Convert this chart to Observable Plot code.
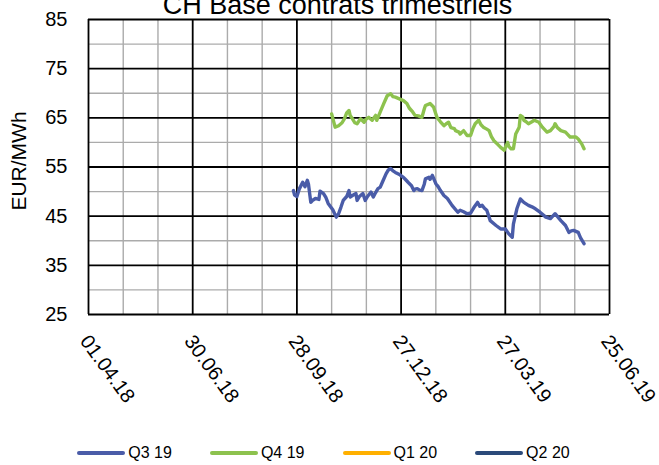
<!DOCTYPE html>
<html>
<head>
<meta charset="utf-8">
<script src="https://cdn.jsdelivr.net/npm/d3@7"></script>
<script src="https://cdn.jsdelivr.net/npm/@observablehq/plot@0.6"></script>
<style>
  body { margin: 0; background: #fff; }
  #wrap { position: relative; width: 659px; height: 465px; overflow: hidden; font-family: "Liberation Sans", Arial, sans-serif; background: #fff; }
  #chart { position: absolute; top: 0; left: 0; }
  #title { position: absolute; top: -8px; left: 8px; width: 659px; text-align: center; font-size: 27px; line-height: 27px; color: #000; white-space: nowrap; }
  #legend { position: absolute; top: 443px; left: -6px; width: 659px; height: 20px; display: flex; justify-content: center; align-items: center; font-size: 16px; color: #000; }
  .item { display: flex; align-items: center; margin: 0 19px; }
  .sw { width: 48px; height: 4px; border-radius: 2px; margin-right: 3px; }
</style>
</head>
<body>
<div id="wrap">
  <div id="chart"></div>
  <div id="title"></div>
  <div id="legend"></div>
</div>
<script>
const titleText = "CH Base contrats trimestriels";
const yLabel = "EUR/MWh";

const seriesNames = ["Q3 19", "Q4 19", "Q1 20", "Q2 20"];
const seriesColors = ["#4A5CA8", "#8DC24E", "#FFB000", "#2B4A7A"];

const yMajorTicks = [25, 35, 45, 55, 65, 75, 85];
const yMinorTicks = [30, 40, 50, 60, 70, 80];
const xMajorDates = ["2018-04-01", "2018-06-30", "2018-09-28", "2018-12-27", "2019-03-27", "2019-06-25"];
const xTickLabels = ["01.04.18", "30.06.18", "28.09.18", "27.12.18", "27.03.19", "25.06.19"];
const xMinorDates = ["2018-05-01", "2018-05-31", "2018-07-30", "2018-08-29", "2018-10-28", "2018-11-27",
                     "2019-01-26", "2019-02-25", "2019-04-26", "2019-05-26"];

// Q3 19
const q3Dates = ["2018-09-25","2018-09-26","2018-09-28","2018-09-30","2018-10-03","2018-10-05","2018-10-07","2018-10-08",
  "2018-10-10","2018-10-12","2018-10-14","2018-10-17","2018-10-18","2018-10-21","2018-10-23","2018-10-25","2018-10-29",
  "2018-11-01","2018-11-03","2018-11-05","2018-11-07","2018-11-10","2018-11-12","2018-11-13","2018-11-15","2018-11-18",
  "2018-11-19","2018-11-21","2018-11-24","2018-11-26","2018-11-28","2018-12-01","2018-12-03","2018-12-05","2018-12-07",
  "2018-12-09","2018-12-11","2018-12-14","2018-12-16","2018-12-18","2018-12-20","2018-12-22","2018-12-26","2018-12-29",
  "2018-12-31","2019-01-02","2019-01-05","2019-01-07","2019-01-08","2019-01-10","2019-01-12","2019-01-14","2019-01-16",
  "2019-01-17","2019-01-20","2019-01-21","2019-01-23","2019-01-26","2019-01-28","2019-01-30","2019-02-02","2019-02-05",
  "2019-02-09","2019-02-14","2019-02-16","2019-02-19","2019-02-22","2019-02-25","2019-02-28","2019-03-03","2019-03-05",
  "2019-03-07","2019-03-09","2019-03-11","2019-03-14","2019-03-19","2019-03-23","2019-03-27","2019-03-30","2019-04-02",
  "2019-04-03","2019-04-06","2019-04-09","2019-04-12","2019-04-16","2019-04-19","2019-04-22","2019-04-26","2019-05-01",
  "2019-05-05","2019-05-09","2019-05-14","2019-05-18","2019-05-21","2019-05-23","2019-05-25","2019-05-29","2019-05-31",
  "2019-06-03"];
const q3Values = [50.2,49.3,49.0,50.5,51.9,51.0,52.3,51.5,
  47.8,48.3,48.6,48.4,50.1,49.6,48.8,47.6,46.3,
  44.8,45.5,46.8,48.2,49.0,50.2,48.9,49.2,49.6,
  48.2,49.0,49.6,48.2,49.0,49.9,48.9,49.8,50.6,
  50.9,52.0,53.6,54.4,54.7,54.2,53.9,53.4,52.9,
  52.4,51.9,51.2,50.2,50.5,50.6,50.3,50.2,51.5,
  52.6,52.9,52.5,53.3,51.6,51.0,50.2,49.2,48.6,
  47.2,45.8,46.2,45.9,45.5,45.6,46.8,47.8,47.0,
  47.2,46.6,46.2,44.1,43.1,42.4,42.4,41.4,40.7,
  43.4,46.5,48.5,47.8,47.2,46.9,46.5,45.8,44.8,
  44.5,45.5,44.1,43.1,41.7,42.0,42.1,41.7,40.6,
  39.4];

// Q4 19
const q4Dates = ["2018-10-28","2018-10-31","2018-11-03","2018-11-06","2018-11-08","2018-11-10","2018-11-12","2018-11-13",
  "2018-11-15","2018-11-17","2018-11-19","2018-11-21","2018-11-22","2018-11-25","2018-11-27","2018-11-29","2018-12-02",
  "2018-12-05","2018-12-06","2018-12-09","2018-12-12","2018-12-15","2018-12-18","2018-12-20","2018-12-22","2018-12-26",
  "2018-12-29","2019-01-01","2019-01-03","2019-01-06","2019-01-08","2019-01-11","2019-01-14","2019-01-16","2019-01-17",
  "2019-01-21","2019-01-24","2019-01-27","2019-01-30","2019-02-02","2019-02-04","2019-02-06","2019-02-08","2019-02-11",
  "2019-02-12","2019-02-15","2019-02-16","2019-02-19","2019-02-22","2019-02-25","2019-02-27","2019-03-01","2019-03-04",
  "2019-03-06","2019-03-08","2019-03-11","2019-03-13","2019-03-15","2019-03-17","2019-03-20","2019-03-23","2019-03-26",
  "2019-03-29","2019-03-30","2019-04-01","2019-04-03","2019-04-05","2019-04-08","2019-04-09","2019-04-11","2019-04-12",
  "2019-04-14","2019-04-16","2019-04-19","2019-04-21","2019-04-23","2019-04-25","2019-04-28","2019-04-30","2019-05-02",
  "2019-05-05","2019-05-08","2019-05-09","2019-05-11","2019-05-14","2019-05-18","2019-05-20","2019-05-22","2019-05-27",
  "2019-05-29","2019-06-01","2019-06-03"];
const q4Values = [65.8,63.1,63.4,64.0,64.8,66.0,66.5,65.5,
  64.8,64.0,63.8,64.5,64.8,64.1,64.8,65.1,64.5,
  65.5,64.5,66.2,67.9,69.5,69.9,69.3,69.2,68.8,
  68.5,67.9,67.0,66.2,65.5,65.4,65.1,66.8,67.5,
  67.9,67.2,65.1,64.2,63.4,63.8,64.1,63.0,62.8,
  62.4,62.1,61.7,62.4,61.4,61.4,62.8,63.8,64.5,
  63.6,63.1,62.7,62.4,61.2,60.4,59.7,59.0,58.4,
  60.0,59.2,58.7,58.7,61.7,63.1,65.5,65.2,64.5,
  64.2,63.8,64.2,64.5,64.3,64.1,63.1,62.6,62.1,
  62.4,63.2,63.8,63.0,62.4,62.1,61.6,61.1,61.1,
  60.7,59.7,58.7];

// Q1 20, Q2 20: no data drawn in the reference (legend only)
const q1Dates = [], q1Values = [];
const q2Dates = [], q2Values = [];

const parse = d3.utcParse("%Y-%m-%d");
const toRows = (dates, values, name) => dates.map((d, i) => ({date: parse(d), value: values[i], series: name}));
const rows = [
  ...toRows(q3Dates, q3Values, seriesNames[0]),
  ...toRows(q4Dates, q4Values, seriesNames[1]),
  ...toRows(q1Dates, q1Values, seriesNames[2]),
  ...toRows(q2Dates, q2Values, seriesNames[3])
];
const xMajor = xMajorDates.map(parse);
const xMinor = xMinorDates.map(parse);
const xLabelRows = xMajor.map((d, i) => ({date: d, label: xTickLabels[i]}));

const plot = Plot.plot({
  width: 659,
  height: 432,
  marginLeft: 88,
  marginRight: 50,
  marginTop: 19,
  marginBottom: 118,
  style: {fontFamily: "'Liberation Sans', Arial, sans-serif", fontSize: "20px", color: "#000", background: "transparent", overflow: "visible"},
  x: {type: "utc", domain: [xMajor[0], xMajor[xMajor.length - 1]], axis: null},
  y: {domain: [25, 85], label: null},
  color: {domain: seriesNames, range: seriesColors},
  marks: [
    Plot.ruleX(xMinor, {stroke: "#ABABAB", strokeWidth: 1.4}),
    Plot.ruleY(yMinorTicks, {stroke: "#ABABAB", strokeWidth: 1.4}),
    Plot.ruleX(xMajor, {stroke: "#000", strokeWidth: 1.8}),
    Plot.ruleY(yMajorTicks, {stroke: "#000", strokeWidth: 1.8}),
    Plot.line(rows, {x: "date", y: "value", z: "series", stroke: "series", strokeWidth: 3.4, strokeLinejoin: "round", strokeLinecap: "round"}),
    Plot.axisY({ticks: yMajorTicks, tickSize: 0, tickPadding: 21, fontSize: 20, label: null}),
    Plot.text(xLabelRows, {x: "date", text: "label", frameAnchor: "bottom", rotate: 54, textAnchor: "start", lineAnchor: "middle", dx: -4, dy: 23, fontSize: 20, fill: "#000"}),
    Plot.text([yLabel], {frameAnchor: "left", rotate: -90, textAnchor: "middle", lineAnchor: "middle", dx: -69, dy: -6, fontSize: 21, fill: "#000"})
  ]
});
document.getElementById("chart").appendChild(plot);
document.getElementById("title").textContent = titleText;

const legend = document.getElementById("legend");
seriesNames.forEach((name, i) => {
  const item = document.createElement("div");
  item.className = "item";
  const sw = document.createElement("div");
  sw.className = "sw";
  sw.style.background = seriesColors[i];
  const t = document.createElement("span");
  t.textContent = name;
  item.appendChild(sw);
  item.appendChild(t);
  legend.appendChild(item);
});
</script>
</body>
</html>
